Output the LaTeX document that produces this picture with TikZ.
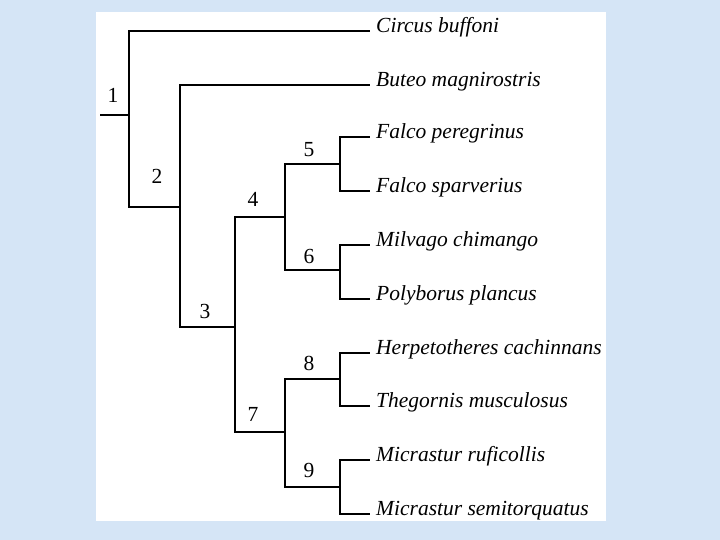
\documentclass[tikz,border=0pt]{standalone}
\usepackage{fontspec}
\setmainfont{Liberation Serif}
\definecolor{bgblue}{RGB}{213,229,246}
\begin{document}
\begin{tikzpicture}[x=1pt,y=-1pt,
  branch/.style={line width=1.8pt, line cap=rect, line join=miter},
  rootline/.style={line width=1.2pt},
  taxon/.style={anchor=base west, inner sep=0pt, font=\fontsize{21.5}{24}\selectfont\itshape},
  num/.style={anchor=base, inner sep=0pt, font=\fontsize{21.5}{24}\selectfont}]
\useasboundingbox (0,0) rectangle (720,540);
\fill[bgblue] (0,0) rectangle (720,540);
\fill[white] (96,12) rectangle (606,521);
% leaf tips
\coordinate (t1) at (369,31);
\coordinate (t2) at (369,85);
\coordinate (t3) at (369,137);
\coordinate (t4) at (369,191);
\coordinate (t5) at (369,245);
\coordinate (t6) at (369,299);
\coordinate (t7) at (369,353);
\coordinate (t8) at (369,406);
\coordinate (t9) at (369,460);
\coordinate (t10) at (369,514);
% internal nodes
\coordinate (r) at (100,115);
\coordinate (n1) at (129,115);
\coordinate (n2) at (180,207);
\coordinate (n3) at (235,327);
\coordinate (n4) at (285,217);
\coordinate (n5) at (340,164);
\coordinate (n6) at (340,270);
\coordinate (n7) at (285,432);
\coordinate (n8) at (340,379);
\coordinate (n9) at (340,487);
% branches
\draw[rootline] (r) -- (n1);
\draw[branch] (t1) -| (n1) |- (n2);
\draw[branch] (t2) -| (n2) |- (n3);
\draw[branch] (n4) -| (n3) |- (n7);
\draw[branch] (n5) -| (n4) |- (n6);
\draw[branch] (t3) -| (n5) |- (t4);
\draw[branch] (t5) -| (n6) |- (t6);
\draw[branch] (n8) -| (n7) |- (n9);
\draw[branch] (t7) -| (n8) |- (t8);
\draw[branch] (t9) -| (n9) |- (t10);
% taxa
\node[taxon] (l1) at (376,32.5) {Circus buffoni};
\node[taxon] (l2) at (376,86.5) {Buteo magnirostris};
\node[taxon] (l3) at (376,138.5) {Falco peregrinus};
\node[taxon] (l4) at (376,192.5) {Falco sparverius};
\node[taxon] (l5) at (376,246.5) {Milvago chimango};
\node[taxon] (l6) at (376,300.5) {Polyborus plancus};
\node[taxon] (l7) at (376,354.5) {Herpetotheres cachinnans};
\node[taxon] (l8) at (376,407.5) {Thegornis musculosus};
\node[taxon] (l9) at (376,461.5) {Micrastur ruficollis};
\node[taxon] (l10) at (376,515.5) {Micrastur semitorquatus};
% node numbers
\node[num] (c1) at (113,103) {1};
\node[num] (c2) at (157,184) {2};
\node[num] (c3) at (205,318) {3};
\node[num] (c4) at (253,207) {4};
\node[num] (c5) at (309,157) {5};
\node[num] (c6) at (309,263) {6};
\node[num] (c7) at (253,421) {7};
\node[num] (c8) at (309,370) {8};
\node[num] (c9) at (309,477) {9};
\end{tikzpicture}
\end{document}
